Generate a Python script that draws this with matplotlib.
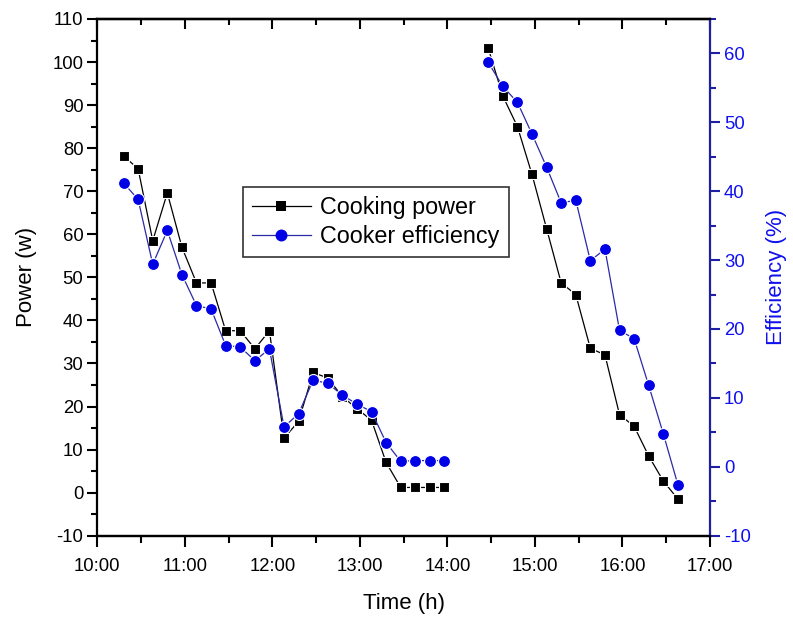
import matplotlib
matplotlib.use("Agg")
import matplotlib.pyplot as plt
from matplotlib.ticker import MultipleLocator

plt.rcParams['font.family'] = ['Liberation Sans', 'DejaVu Sans']
plt.rcParams['axes.unicode_minus'] = False

# ---- data ----
times_am = ["10:18", "10:28", "10:38", "10:48", "10:58", "11:08", "11:18", "11:28",
            "11:38", "11:48", "11:58", "12:08", "12:18", "12:28", "12:38", "12:48",
            "12:58", "13:08", "13:18", "13:28", "13:38", "13:48", "13:58"]
power_am = [78.2, 75.2, 58.5, 69.6, 57.0, 48.7, 48.7, 37.6, 37.6, 33.4, 37.6, 12.6,
            16.6, 27.9, 26.6, 22.3, 19.5, 16.8, 7.0, 1.2, 1.2, 1.2, 1.2]
eff_am = [41.2, 38.8, 29.4, 34.3, 27.9, 23.4, 22.9, 17.6, 17.4, 15.4, 17.1, 5.8,
          7.7, 12.6, 12.1, 10.4, 9.1, 8.0, 3.5, 0.8, 0.9, 0.9, 0.9]

times_pm = ["14:28", "14:38", "14:48", "14:58", "15:08", "15:18", "15:28", "15:38",
            "15:48", "15:58", "16:08", "16:18", "16:28", "16:38"]
power_pm = [103.2, 92.1, 85.0, 73.9, 61.3, 48.7, 46.0, 33.5, 32.0, 18.1, 15.4, 8.5, 2.7, -1.5]
eff_pm = [58.7, 55.2, 52.9, 48.3, 43.5, 38.3, 38.7, 29.9, 31.6, 19.8, 18.6, 11.8, 4.8, -2.6]

x_ticks = ["10:00", "11:00", "12:00", "13:00", "14:00", "15:00", "16:00", "17:00"]


def to_hours(t):
    h, m = t.split(":")
    return int(h) + int(m) / 60.0


xa = [to_hours(t) for t in times_am]
xp = [to_hours(t) for t in times_pm]

BLUE_M = '#0000e6'
BLUE_L = '#2a2aa6'
BLUE_AX = '#1f1fa3'
BLUE_TX = '#1010ee'

fig = plt.figure(figsize=(7.93, 6.20), dpi=100)
ax = fig.add_axes([0.1227, 0.1360, 0.7726, 0.9694 - 0.1360])
ax2 = ax.twinx()

ls_kw = dict(lw=0.9, mec='white', mew=0.8)
l1, = ax.plot(xa, power_am, color='black', marker='s', ms=7.2, mfc='black', **ls_kw)
ax.plot(xp, power_pm, color='black', marker='s', ms=7.2, mfc='black', **ls_kw)
l2, = ax2.plot(xa, eff_am, color=BLUE_L, marker='o', ms=8.6, mfc=BLUE_M, **ls_kw)
ax2.plot(xp, eff_pm, color=BLUE_L, marker='o', ms=8.6, mfc=BLUE_M, **ls_kw)

xt = [to_hours(t) for t in x_ticks]
ax.set_xlim(xt[0], xt[-1])
ax.set_xticks(xt)
ax.set_xticklabels(x_ticks)
ax.xaxis.set_minor_locator(MultipleLocator(0.5))

ax.set_ylim(-10, 110)
ax.yaxis.set_major_locator(MultipleLocator(10))
ax.yaxis.set_minor_locator(MultipleLocator(5))
ax2.set_ylim(-10, 65)
ax2.yaxis.set_major_locator(MultipleLocator(10))
ax2.yaxis.set_minor_locator(MultipleLocator(5))

for sp in ['left', 'bottom', 'top']:
    ax.spines[sp].set_linewidth(1.6)
    ax2.spines[sp].set_linewidth(1.6)
ax.spines['right'].set_visible(False)
ax2.spines['right'].set_color(BLUE_AX)
ax2.spines['right'].set_linewidth(1.6)
ax2.spines['left'].set_visible(False)

fs_tick = 13.3
ax.tick_params(axis='x', which='major', direction='out', length=8, width=1.5,
               labelsize=fs_tick, pad=8)
ax.tick_params(axis='x', which='minor', direction='out', length=5, width=1.5)
ax.tick_params(axis='y', which='major', direction='out', length=7, width=1.5,
               labelsize=fs_tick, pad=3)
ax.tick_params(axis='y', which='minor', direction='out', length=4.5, width=1.5)

ax2.tick_params(axis='y', which='major', direction='out', length=7, width=1.5,
                labelsize=fs_tick, colors=BLUE_AX, labelcolor=BLUE_TX, pad=3)
ax2.tick_params(axis='y', which='minor', direction='out', length=4.5, width=1.5,
                colors=BLUE_AX)

# top ticks pointing inward (downward)
secx = ax.secondary_xaxis('top')
secx.set_xticks(xt)
secx.xaxis.set_minor_locator(MultipleLocator(0.5))
secx.tick_params(axis='x', which='major', direction='in', length=7.5, width=1.5,
                 labeltop=False)
secx.tick_params(axis='x', which='minor', direction='in', length=4.5, width=1.5)
secx.spines['top'].set_linewidth(1.6)
ax.tick_params(axis='x', which='both', top=False)

ax.set_xlabel('Time (h)', fontsize=16, labelpad=13)
ax.set_ylabel('Power (w)', fontsize=16, labelpad=11)
ax2.set_ylabel('Efficiency (%)', fontsize=16, color=BLUE_TX, labelpad=11)

leg = ax2.legend([l1, l2], ['Cooking power', 'Cooker efficiency'],
                 loc='upper left', bbox_to_anchor=(0.3064, 0.6984),
                 bbox_transform=fig.transFigure, fontsize=16.8, frameon=True,
                 fancybox=False, edgecolor='black', handlelength=2.5,
                 handletextpad=0.4, borderpad=0.4, labelspacing=0.25,
                 borderaxespad=0)
leg.get_frame().set_linewidth(1.2)
for h in leg.legend_handles:
    h.set_markeredgewidth(0)

fig.savefig('out.png', dpi=100)
